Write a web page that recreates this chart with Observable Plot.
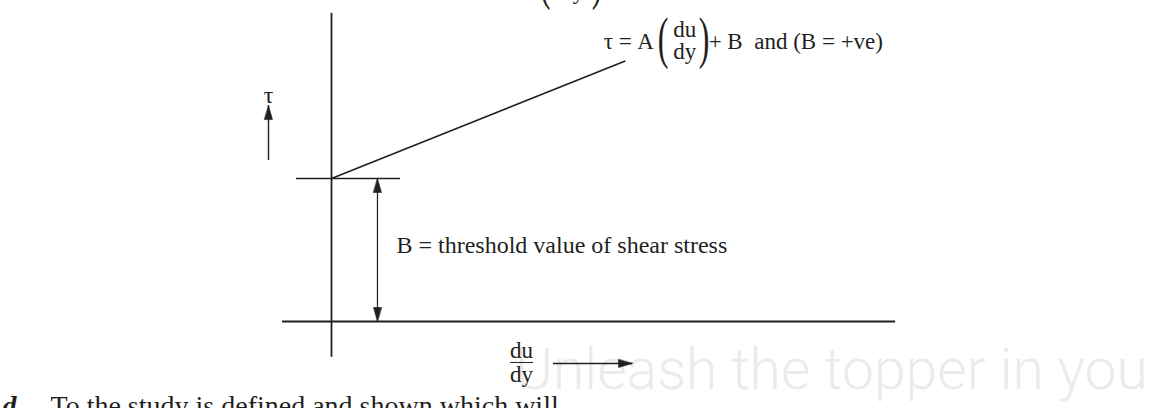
<!DOCTYPE html>
<html><head><meta charset="utf-8">
<script src="https://cdn.jsdelivr.net/npm/d3@7"></script>
<script src="https://cdn.jsdelivr.net/npm/@observablehq/plot@0.6"></script>
<style>
html,body{margin:0;padding:0;background:#fff;overflow:hidden}
#chart svg{display:block}
</style></head>
<body><div id="chart"></div>
<script>
// ---- data (diagram units: du/dy horizontally, τ vertically) ----
const shearRate = [0, 4.1];            // du/dy
const shearStress = [2.0, 3.64];       // τ = A(du/dy) + B
const thresholdB = 2.0;                // B
const tauAxisExtent = [-0.5, 4.31];
const rateAxisExtent = [-0.685, 7.89];
const thresholdTickExtent = [-0.49, 0.965];
const dimensionX = 0.643;
const tauArrowX = -0.881;
const tauArrowExtent = [2.25, 3.02];
const rateArrowTau = -0.587;
const rateArrowExtent = [3.105, 4.21];

const formulaLeft = "τ = A";
const formulaRight = "+ B\u00a0\u00a0and (B = +ve)";
const fracNum = "du";
const fracDen = "dy";
const thresholdLabel = "B = threshold value of shear stress";
const tauLabel = "τ";
const captionLead = "d.";
const captionText = "To the study is defined and shown which will";
const watermarkText = "Unleash the topper in you";

// ---- layout ----
const ink = "#231f20";
const W = 1150, H = 408, k = 71.5, ox = 331, oy = 321;
const xDomain = [-ox / k, (W - ox) / k];
const yDomain = [(oy - H) / k, oy / k];

const head = {draw(ctx, l, r) { ctx.moveTo(0, -l); ctx.lineTo(r, 0); ctx.lineTo(-r, 0); ctx.closePath(); }};
const end = {x: shearRate[1], y: shearStress[1]};
const fracAnchor = {x: rateArrowExtent[0], y: rateArrowTau};

const heads = [
  {x: dimensionX, y: thresholdB, a: 0},
  {x: dimensionX, y: 0, a: 180},
  {x: tauArrowX, y: tauArrowExtent[1], a: 0},
  {x: rateArrowExtent[1], y: rateArrowTau, a: 90}
];

const t = (txt, o) => Plot.text([txt], {text: d => d, lineAnchor: "bottom", ...o});

const svg = Plot.plot({
  width: W, height: H, margin: 0,
  x: {domain: xDomain, axis: null},
  y: {domain: yDomain, axis: null},
  style: {fontFamily: "Liberation Serif", color: ink, background: "white"},
  marks: [
    t(watermarkText, {frameAnchor: "bottom-left", dx: 515, dy: -20, textAnchor: "start", fill: "#ebebeb", fontFamily: "Roboto", fontWeight: 300, fontSize: 57}),
    Plot.ruleX([0], {y1: tauAxisExtent[0], y2: tauAxisExtent[1], stroke: ink, strokeWidth: 1.8}),
    Plot.ruleY([0], {x1: rateAxisExtent[0], x2: rateAxisExtent[1], stroke: ink, strokeWidth: 1.8}),
    Plot.ruleY([thresholdB], {x1: thresholdTickExtent[0], x2: thresholdTickExtent[1], stroke: ink, strokeWidth: 1.6}),
    Plot.line(shearRate.map((x, i) => ({x, y: shearStress[i]})), {x: "x", y: "y", stroke: ink, strokeWidth: 1.7}),
    Plot.ruleX([dimensionX], {y1: 0, y2: thresholdB, stroke: ink, strokeWidth: 1.2}),
    Plot.ruleX([tauArrowX], {y1: tauArrowExtent[0], y2: tauArrowExtent[1], stroke: ink, strokeWidth: 1.4}),
    Plot.ruleY([rateArrowTau], {x1: rateArrowExtent[0], x2: rateArrowExtent[1], stroke: ink, strokeWidth: 1.4}),
    Plot.vector(heads, {x: "x", y: "y", rotate: "a", length: 14, r: 4, anchor: "end", shape: head, fill: ink, stroke: ink, strokeWidth: 0.6}),
    // labels
    t(tauLabel, {x: tauArrowX, y: tauArrowExtent[1], dy: -3, textAnchor: "middle", fontSize: 24}),
    t(thresholdLabel, {x: dimensionX, y: thresholdB / 2, dx: 19, dy: 2.5, textAnchor: "start", fontSize: 24}),
    // formula near the line end
    t(formulaLeft, {...end, dx: -21, dy: -12, textAnchor: "start", fontSize: 23}),
    t("(", {...end, dx: 33, dy: -4, textAnchor: "start", fontSize: 32, className: "stretch"}),
    t(fracNum, {...end, dx: 60, dy: -24, textAnchor: "middle", fontSize: 23}),
    t(fracDen, {...end, dx: 60, dy: -2, textAnchor: "middle", fontSize: 23}),
    t(")", {...end, dx: 74, dy: -4, textAnchor: "start", fontSize: 32, className: "stretch"}),
    t(formulaRight, {...end, dx: 84, dy: -12, textAnchor: "start", fontSize: 23}),
    // fragment of formula above (cut off)
    t("(", {...end, dx: -85, dy: -63, textAnchor: "start", fontSize: 32, className: "stretch"}),
    t(fracDen, {...end, dx: -52, dy: -62, textAnchor: "middle", fontSize: 23}),
    t(")", {...end, dx: -33, dy: -63, textAnchor: "start", fontSize: 32, className: "stretch"}),
    // du/dy label on the horizontal arrow
    t(fracNum, {...fracAnchor, dx: -32, dy: -5, textAnchor: "middle", fontSize: 23}),
    t(fracDen, {...fracAnchor, dx: -32, dy: 19, textAnchor: "middle", fontSize: 23}),
    Plot.ruleY([rateArrowTau], {x1: rateArrowExtent[0] - 0.6, x2: rateArrowExtent[0] - 0.28, dy: -1, stroke: ink, strokeWidth: 1}),
    // caption (cut off at bottom)
    t(captionLead, {frameAnchor: "bottom-left", dx: 2, dy: 6, textAnchor: "start", fontSize: 28, fontWeight: "bold", fontStyle: "italic"}),
    t(captionText, {frameAnchor: "bottom-left", dx: 50, dy: 6, textAnchor: "start", fontSize: 28})
  ]
});

d3.select(svg).selectAll("g.stretch text").attr("transform", function () {
  return this.getAttribute("transform") + " scale(1,1.8)";
});
document.getElementById("chart").appendChild(svg);
</script>
</body></html>
